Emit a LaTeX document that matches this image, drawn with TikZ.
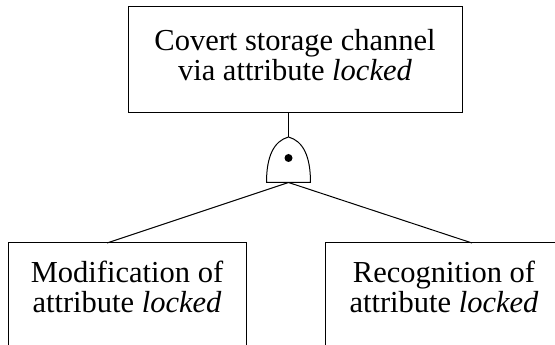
\documentclass[tikz,border=0pt]{standalone}
\usepackage{fontspec}
\setmainfont{Liberation Serif}
\tikzset{
  box/.style={draw, line width=1pt, minimum width=238pt, minimum height=130pt, inner sep=0pt},
  boxtext/.style={align=center, inner sep=0pt, anchor=north, font=\fontsize{30.5}{30}\selectfont},
  gate/.style={line width=1pt, line join=round},
}
\begin{document}
\begin{tikzpicture}[x=1pt, y=1pt, line width=1pt]
\useasboundingbox (0,0) rectangle (555,345);
% the top event
\node[box, minimum width=334pt, minimum height=106pt,
  label={[boxtext, yshift=-22pt]north:{Covert storage channel\\via attribute \textit{locked}}}] (Top) at (295,285) {};
% the two leaves, cut off by the page
\node[box, label={[boxtext, yshift=-18pt]north:{Modification of\\attribute \textit{locked}}}] (Mod) at (127,37) {};
\node[box, label={[boxtext, yshift=-18pt]north:{Recognition of\\attribute \textit{locked}}}] (Rec) at (444,37) {};

% the and gate
\coordinate (GateTop) at (288.5,208);
\coordinate (GateBase) at (288.5,162.5);
\coordinate (GateDot) at (288.5,187);
\draw[gate] (266.5,162.5) -- (310.5,162.5) .. controls (310.5,189) and (303,204) .. (GateTop)
  .. controls (274,204) and (266.5,189) .. cycle;
\fill (GateDot) circle (4);

\coordinate (ModIn) at (107,102);
\coordinate (RecIn) at (472,102);
\draw (Top.south -| GateTop) -- (GateTop);
\foreach \t in {ModIn,RecIn} \draw (GateBase) -- (\t);
\end{tikzpicture}
\end{document}
